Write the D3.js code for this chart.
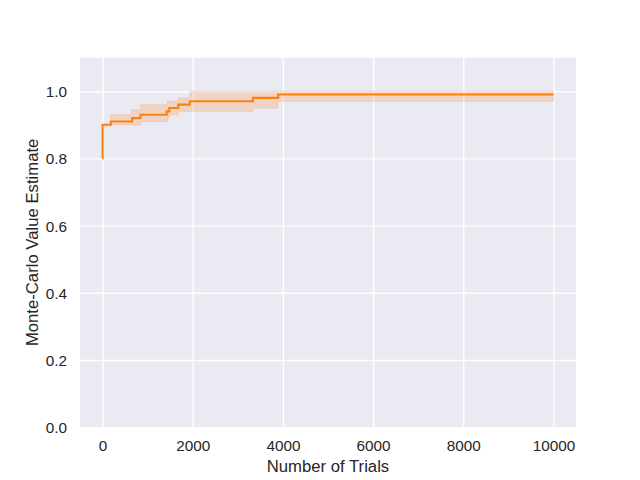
<!DOCTYPE html>
<html>
<head>
<meta charset="utf-8">
<script src="https://cdn.jsdelivr.net/npm/d3@7"></script>
<style>
  html, body { margin: 0; padding: 0; background: #ffffff; }
  svg { display: block; }
  text { font-family: "Liberation Sans", Arial, sans-serif; fill: #262626; }
</style>
</head>
<body>
<svg id="chart" width="640" height="480"></svg>
<script>
// ---- data ----
const meanTrials = [0, 1, 182, 655, 840, 1423, 1481, 1680, 1935, 3335, 3895, 10000];
const meanValues = [0.80, 0.90, 0.91, 0.92, 0.93, 0.94, 0.95, 0.96, 0.97, 0.98, 0.99, 0.99];

const bandTrials = [1, 182, 640, 845, 1440, 1480, 1680, 1935, 3340, 3890, 10000];
const bandUpper  = [0.90, 0.93, 0.945, 0.96, 0.97, 0.97, 0.98, 1.00, 1.00, 1.00, 1.00];
const bandLower  = [0.90, 0.90, 0.90, 0.91, 0.92, 0.93, 0.94, 0.94, 0.95, 0.97, 0.97];

const xTicks = [0, 2000, 4000, 6000, 8000, 10000];
const yTicks = [0.0, 0.2, 0.4, 0.6, 0.8, 1.0];
const xLabel = "Number of Trials";
const yLabel = "Monte-Carlo Value Estimate";

// ---- layout ----
const svg = d3.select("#chart");
const mLeft = 80, mRight = 576, mTop = 57.6, mBottom = 427.2;

const x = d3.scaleLinear().domain([-500, 10500]).range([mLeft, mRight]);
const y = d3.scaleLinear().domain([0, 1.1]).range([mBottom, mTop]);

svg.append("rect").attr("x", 0).attr("y", 0).attr("width", 640).attr("height", 480).attr("fill", "#ffffff");
svg.append("rect").attr("x", mLeft).attr("y", mTop).attr("width", mRight - mLeft).attr("height", mBottom - mTop).attr("fill", "#eaeaf2");

// grid
const gx = svg.append("g").attr("transform", `translate(0,${mBottom})`)
  .call(d3.axisBottom(x).tickValues(xTicks).tickSize(-(mBottom - mTop)).tickFormat(d3.format("d")).tickPadding(13));
const gy = svg.append("g").attr("transform", `translate(${mLeft},0)`)
  .call(d3.axisLeft(y).tickValues(yTicks).tickSize(-(mRight - mLeft)).tickFormat(d3.format(".1f")).tickPadding(13));
[gx, gy].forEach(g => {
  g.select(".domain").remove();
  g.selectAll(".tick line").attr("stroke", "#ffffff").attr("stroke-width", 1.4);
  g.selectAll(".tick text").style("font-size", "15.3px").attr("fill", "#262626")
    .style("font-family", '"Liberation Sans", Arial, sans-serif');
});
gy.selectAll(".tick text").attr("dy", "0.36em");
gx.selectAll(".tick text").attr("dy", "0.71em");

// band
const bandData = bandTrials.map((t, i) => ({ t, lo: bandLower[i], hi: bandUpper[i] }));
const area = d3.area().curve(d3.curveStepAfter)
  .x(d => x(d.t)).y0(d => y(d.lo)).y1(d => y(d.hi));
svg.append("path").datum(bandData).attr("d", area)
  .attr("fill", "#ff7f0e").attr("fill-opacity", 0.2)
  .attr("stroke", "#ff7f0e").attr("stroke-opacity", 0.2).attr("stroke-width", 1);

// mean line
const lineData = meanTrials.map((t, i) => ({ t, v: meanValues[i] }));
const line = d3.line().curve(d3.curveStepAfter).x(d => x(d.t)).y(d => y(d.v));
svg.append("path").datum(lineData).attr("d", line)
  .attr("fill", "none").attr("stroke", "#ff7f0e").attr("stroke-width", 2.1);

// axis labels
svg.append("text").attr("x", (mLeft + mRight) / 2).attr("y", 472)
  .attr("text-anchor", "middle").style("font-size", "16.7px").text(xLabel);
svg.append("text").attr("transform", `translate(38,${(mTop + mBottom) / 2}) rotate(-90)`)
  .attr("text-anchor", "middle").style("font-size", "16.7px").text(yLabel);
</script>
</body>
</html>
